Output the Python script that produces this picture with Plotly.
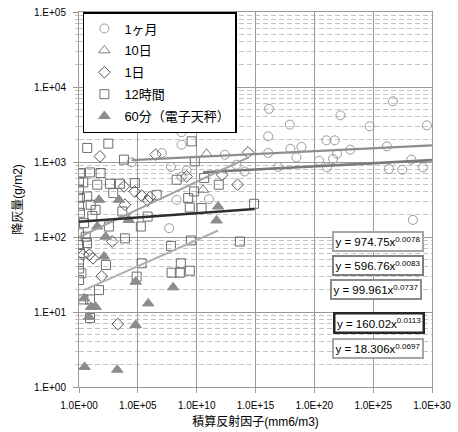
import plotly.graph_objects as go

# ---- data ----
month_x = [3.0e4, 1.1e7, 6.5e7, 5.2e8, 5.2e8, 1.4e9, 5.2e8, 2.5e12, 2.4e13, 1.2e14, 2.0e8, 1.1e11, 4.6e7,
           1.4e16, 8.2e17, 1.2e16, 1.2e16, 8.3e16, 9.3e17, 8e18, 3e18, 1.07e21, 5.4e21, 1.66e22, 8.5e21,
           3.9e21, 2.5e20, 1.2e21, 1.15e23, 5e24, 4.8e26, 1.48e26, 1.74e28, 2.2e26, 3e27, 1.7e29, 3.7e29, 2.4e28]
month_y = [990, 1320, 860, 2490, 1700, 772, 636, 1250, 920, 748, 313, 320, 131,
           5110, 3150, 2200, 1320, 857, 1500, 1590, 1150, 1945, 1945, 4200, 1290,
           1097, 1040, 847, 1460, 2990, 6460, 1617, 1074, 806, 789, 847, 3085, 169]

day10_x = [6.9e10, 3.5e10]
day10_y = [1290, 426]

day1_x = [60, 3.2e6, 2.3e14, 1.4e9, 1.46e12, 3e13, 2.1e5, 1.07e6, 6.8e5, 5.4e4, 6.6e3, 670, 7.5, 85,
          2000, 8000, 15.5, 2.2]
day1_y = [1188, 1253, 1343, 642, 676, 498, 355, 341, 307, 405, 472, 87, 58, 30,
          6.9, 269, 52, 58]

h12_x = [5, 310, 6600, 3.7e9, 1.2, 8.6, 69, 1, 2.3, 36, 430, 3000, 5.6e4, 2e8, 4.3e10, 7.6e11,
         4e6, 6.1e9, 1.9e9, 2.6e9, 2.6e10, 6.8e5, 1.8e5, 7.6e14, 3.2e9, 6.5e7, 4.7e13, 4.5e8,
         7.4e7, 3.7e8, 2.6e9, 2.1e5, 7.9e4, 8000, 195, 50, 2.3, 8.6, 1.6, 1, 8.6, 350, 2.7, 1,
         3.7, 13.5, 26, 9.8, 5, 820, 4800, 1, 1.2, 1, 1.2, 1, 1.2, 1, 1, 7e9, 4.8]
h12_y = [1540, 1757, 1074, 1885, 713, 726, 713, 550, 534, 498, 513, 513, 524, 580, 611, 498,
         365, 405, 330, 247, 243, 187, 138, 277, 90, 76, 87, 44.6,
         33.4, 33.4, 35.5, 44.6, 29.6, 96, 42.4, 19.6, 14.7, 14.7, 32.8, 38, 8.3, 138, 153, 112,
         101, 191, 230, 269, 347, 385, 219, 425, 333, 261, 210, 78, 61, 46.5, 26.7, 1018, 83]

m60_x = [50, 2500, 1.7e4, 36, 185, 133, 6.5e4, 2.7, 26, 10.5, 7, 6.5e4, 7.6e5, 1e8, 3, 1780, 4.9e11, 6.7e11]
m60_y = [313, 313, 169, 138, 101, 55, 25.3, 15.2, 11.7, 11.7, 8.6, 6.7, 13, 21.3, 1.85, 1.7, 166, 255]

# power-law trendlines y = a * x^b, with x extent of each line
trend_a = [974.75, 596.76, 99.961, 160.02, 18.306]
trend_b = [0.0078, 0.0083, 0.0737, 0.0113, 0.0697]
trend_xmin = [3.0e4, 3.5e10, 1.0, 1.0, 2.6]
trend_xmax = [1e30, 1e30, 2.3e14, 8.5e14, 6.7e11]
trend_labels = ["y = 974.75x<sup>0.0078</sup>", "y = 596.76x<sup>0.0083</sup>",
                "y = 99.961x<sup>0.0737</sup>", "y = 160.02x<sup>0.0113</sup>",
                "y = 18.306x<sup>0.0697</sup>"]

x_tickvals = [1e0, 1e5, 1e10, 1e15, 1e20, 1e25, 1e30]
x_ticktext = ["1.0E+00", "1.0E+05", "1.0E+10", "1.0E+15", "1.0E+20", "1.0E+25", "1.0E+30"]
y_tickvals = [1e0, 1e1, 1e2, 1e3, 1e4, 1e5]
y_ticktext = ["1.E+00", "1.E+01", "1.E+02", "1.E+03", "1.E+04", "1.E+05"]

# ---- styling ----
FONT = "Liberation Sans, Noto Sans CJK JP, sans-serif"
line_colors = ["#8e8e8e", "#7a7a7a", "#a0a0a0", "#2e2e2e", "#b0b0b0"]
line_widths = [2.2, 2.6, 2.0, 2.6, 2.0]
box_colors = ["#a6a6a6", "#7f7f7f", "#8c8c8c", "#262626", "#a6a6a6"]
box_widths = [2, 2, 2, 2.5, 2]
box_pos = [(0.846, 0.388), (0.847, 0.3253), (0.840, 0.2613), (0.8487, 0.1707), (0.847, 0.104)]

fig = go.Figure()

series = [
    ("1ヶ月", month_x, month_y, "circle-open", "#9a9a9a", 9),
    ("10日", day10_x, day10_y, "triangle-up-open", "#808080", 10),
    ("1日", day1_x, day1_y, "diamond-open", "#555555", 9),
    ("12時間", h12_x, h12_y, "square-open", "#6e6e6e", 9),
    ("60分（電子天秤）", m60_x, m60_y, "triangle-up", "#8c8c8c", 10),
]
for i, (name, xs, ys, sym, col, sz) in enumerate(series):
    fig.add_trace(go.Scatter(
        x=xs, y=ys, mode="markers", name=name, legendgroup=str(i),
        marker=dict(symbol=sym, color=col, size=sz, line=dict(color=col, width=1)),
    ))

for i in range(5):
    xs = [trend_xmin[i], trend_xmax[i]]
    ys = [trend_a[i] * x ** trend_b[i] for x in xs]
    fig.add_trace(go.Scatter(x=xs, y=ys, mode="lines", showlegend=False,
                             line=dict(color=line_colors[i], width=line_widths[i]),
                             hoverinfo="skip"))

for i in range(5):
    fig.add_annotation(
        xref="paper", yref="paper", x=box_pos[i][0], y=box_pos[i][1],
        text=trend_labels[i], showarrow=False, xanchor="center", yanchor="middle",
        font=dict(family=FONT, size=11.5, color="#000"),
        bgcolor="white", bordercolor=box_colors[i], borderwidth=box_widths[i], borderpad=1.5,
    )

fig.update_xaxes(
    type="log", range=[0, 30], tickvals=x_tickvals, ticktext=x_ticktext,
    showgrid=True, gridcolor="#9a9a9a", gridwidth=1,
    showline=True, linecolor="#9a9a9a", mirror=True,
    ticks="outside", ticklen=5, tickcolor="#9a9a9a", ticklabelstandoff=4,
    tickfont=dict(family=FONT, size=10, color="#000"),
    title=dict(text="積算反射因子(mm6/m3)", font=dict(family=FONT, size=12, color="#000"), standoff=7),
    zeroline=False, automargin=False,
)
fig.update_yaxes(
    type="log", range=[0, 5], tickvals=y_tickvals, ticktext=y_ticktext,
    showgrid=True, gridcolor="#9a9a9a", gridwidth=1,
    showline=True, linecolor="#9a9a9a", mirror=True,
    ticks="outside", ticklen=5, tickcolor="#9a9a9a", ticklabelstandoff=5,
    minor=dict(dtick="D1", showgrid=True, gridcolor="#c4c4c4", griddash="5px,3px",
               ticks="outside", ticklen=3, tickcolor="#c4c4c4"),
    tickfont=dict(family=FONT, size=10, color="#000"),
    title=dict(text="降灰量(g/m2)", font=dict(family=FONT, size=12, color="#000"), standoff=8),
    zeroline=False, automargin=False,
)

fig.update_layout(
    width=458, height=432,
    margin=dict(l=79, r=26, t=12, b=45, autoexpand=False),
    plot_bgcolor="white", paper_bgcolor="white",
    legend=dict(x=0.011, y=1.0, xanchor="left", yanchor="top",
                bgcolor="white", bordercolor="#000", borderwidth=1.5,
                font=dict(family=FONT, size=13, color="#000"),
                traceorder="grouped", tracegroupgap=2),
    showlegend=True,
)

# remove the page's default 8px body margin so the figure sits at the window origin
fig.write_html("out.html", config={"displayModeBar": False},
               post_script="document.body.style.margin='0px';")
